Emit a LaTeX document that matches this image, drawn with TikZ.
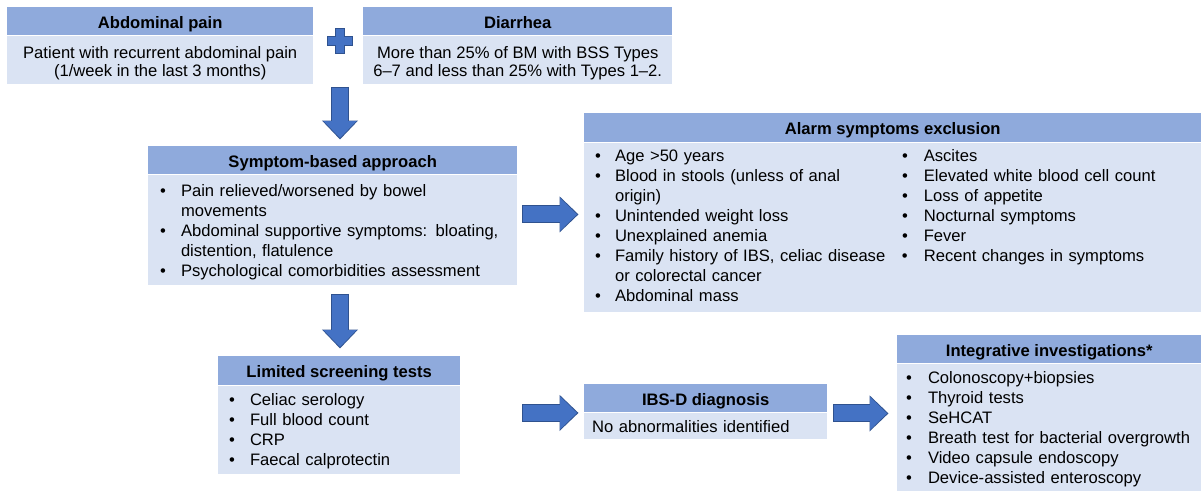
\documentclass[tikz,border=0pt]{standalone}
\usepackage{fontspec}
\setmainfont{Liberation Sans}
\usetikzlibrary{arrows.meta,calc}
\definecolor{hdrblue}{HTML}{8FAADC}
\definecolor{bodyblue}{HTML}{DAE3F3}
\definecolor{arrowblue}{HTML}{4472C4}
\definecolor{arrowedge}{HTML}{2F528F}
\newcommand{\boxfont}{\fontsize{16.6}{20}\selectfont}
\newcommand{\topfont}{\fontsize{16.6}{18}\selectfont}
\newcommand{\bl}{\textbullet}

\begin{document}
\begin{tikzpicture}[x=1pt, y=-1pt,
	hdr/.style={fill=hdrblue, anchor=north west, inner sep=0pt, font=\boxfont\bfseries, text height=15pt, text depth=1pt},
	bodybox/.style={fill=bodyblue, anchor=north west, inner sep=0pt, font=\topfont, align=center},
	listbox/.style={fill=bodyblue, anchor=north west, inner sep=0pt, font=\boxfont, align=left},
	fatarrow/.style={arrowblue, line width=16pt, -{Triangle[width=32pt,length=17pt]},
		preaction={draw=arrowedge, line width=18pt, shorten <=-1pt, shorten >=-1.5pt, -{Triangle[width=35pt,length=19pt]}}}]
	\path[use as bounding box, fill=white] (0,0) rectangle (1201,490);
	% Boxes, plus sign and block arrows:
	\node[hdr, minimum width=306pt, minimum height=28pt] (abdH) at (7,7) {Abdominal pain};
	\node[bodybox, minimum width=306pt, minimum height=48pt] (abdB) at (abdH.south west)
		{\rule{0pt}{20pt}Patient with recurrent abdominal pain\\(1/week in the last 3 months)};
	\node[hdr, minimum width=309pt, minimum height=28pt] (diaH) at (363,7) {Diarrhea};
	\node[bodybox, minimum width=309pt, minimum height=48pt] (diaB) at (diaH.south west)
		{\rule{0pt}{20pt}More than 25\% of BM with BSS Types\\6--7 and less than 25\% with Types 1--2.};
	\coordinate (plus) at (339.5,41);
	\filldraw[fill=arrowblue, draw=arrowedge, line width=0.8pt] (plus)
		++(-4.5,-12.5) -- ++(9,0) -- ++(0,8) -- ++(8,0) -- ++(0,9) -- ++(-8,0) -- ++(0,8)
		-- ++(-9,0) -- ++(0,-8) -- ++(-8,0) -- ++(0,-9) -- ++(8,0) -- cycle;

	\node[hdr, minimum width=369pt, minimum height=28pt] (symH) at (148,146) {Symptom-based approach};
	\node[listbox, text width=369pt, minimum height=110pt] (symB) at (symH.south west) {%
		\begin{tabular}{@{\hspace{12pt}}l@{\hspace{15pt}}l@{}}
			\bl & \rule{0pt}{20pt}Pain relieved/worsened by bowel\\
			    & movements\\
			\bl & Abdominal supportive symptoms: bloating,\\
			    & distention, flatulence\\
			\bl & Psychological comorbidities assessment
		\end{tabular}};

	\node[hdr, minimum width=617pt, minimum height=29pt] (alarmH) at (584,113) {Alarm symptoms exclusion};
	\node[listbox, text width=617pt, minimum height=169pt] (alarmB) at (alarmH.south west) {%
		\begin{tabular}{@{\hspace{11pt}}l@{\hspace{14pt}}p{272pt}@{\hspace{15pt}}l@{\hspace{16pt}}l@{}}
			\bl & Age >50 years & \bl & Ascites\\
			\bl & Blood in stools (unless of anal & \bl & Elevated white blood cell count\\
			    & origin) & \bl & Loss of appetite\\
			\bl & Unintended weight loss & \bl & Nocturnal symptoms\\
			\bl & Unexplained anemia & \bl & Fever\\
			\bl & Family history of IBS, celiac disease & \bl & Recent changes in symptoms\\
			    & or colorectal cancer & & \\
			\bl & Abdominal mass & &
		\end{tabular}};

	\node[hdr, minimum width=242pt, minimum height=29pt] (limH) at (218,356) {Limited screening tests};
	\node[listbox, text width=242pt, minimum height=88pt] (limB) at (limH.south west) {%
		\begin{tabular}{@{\hspace{11pt}}l@{\hspace{15pt}}l@{}}
			\bl & \rule{0pt}{18pt}Celiac serology\\
			\bl & Full blood count\\
			\bl & CRP\\
			\bl & Faecal calprotectin
		\end{tabular}};

	\node[hdr, minimum width=243pt, minimum height=28pt] (ibsH) at (584,384) {IBS-D diagnosis};
	\node[listbox, text width=243pt, minimum height=26pt, text height=13pt, text depth=0pt] (ibsB) at (ibsH.south west)
		{\hspace*{8pt}No abnormalities identified};

	\node[hdr, minimum width=304pt, minimum height=28pt] (intH) at (897,335) {Integrative investigations*};
	\node[listbox, text width=304pt, minimum height=127pt] (intB) at (intH.south west) {%
		\begin{tabular}{@{\hspace{9pt}}l@{\hspace{16pt}}l@{}}
			\bl & \rule{0pt}{19pt}Colonoscopy+biopsies\\
			\bl & Thyroid tests\\
			\bl & SeHCAT\\
			\bl & Breath test for bacterial overgrowth\\
			\bl & Video capsule endoscopy\\
			\bl & Device-assisted enteroscopy
		\end{tabular}};

	\coordinate (symMid) at ($(symH.north east)!.5!(symB.south east)+(0,-1)$);
	\coordinate (limMid) at ($(limH.north east)!.5!(limB.south east)+(0,-2)$);
	\coordinate (ibsMid) at ($(ibsH.north east)!.5!(ibsB.south east)+(0,2)$);
	\draw[fatarrow] ($(abdB.south -| 340,0)+(0,4)$) -- ($(symH.north -| 340,0)+(0,-8)$);
	\draw[fatarrow] ($(symB.south -| 340,0)+(0,10)$) -- ($(limH.north -| 340,0)+(0,-9)$);
	\draw[fatarrow] ($(symMid)+(6,0)$) -- ($(symMid -| alarmB.west)+(-7,0)$);
	\draw[fatarrow] ($(limMid -| ibsB.west)+(-61,0)$) -- ($(limMid -| ibsB.west)+(-7,0)$);
	\draw[fatarrow] ($(ibsMid)+(7,0)$) -- ($(ibsMid -| intB.west)+(-10,0)$);
\end{tikzpicture}
\end{document}
